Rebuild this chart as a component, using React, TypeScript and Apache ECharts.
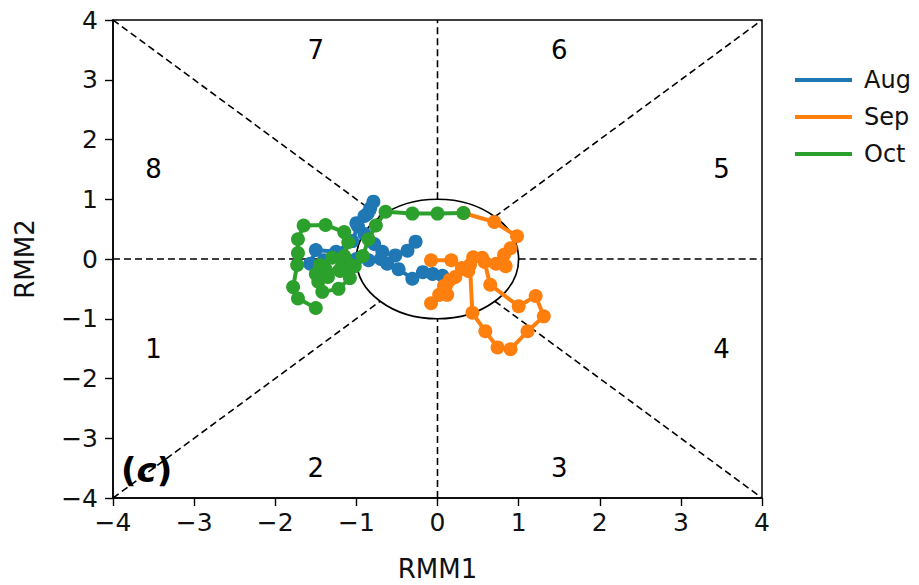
import React, { useEffect, useRef } from 'react';
import * as echarts from 'echarts';

const months = ['Aug', 'Sep', 'Oct'];
const monthColors = ['#1f77b4', '#ff7f0e', '#2ca02c'];

const augRMM: number[][] = [
  [-0.27, 0.29], [-0.37, 0.14], [-0.52, 0.06], [-0.68, 0.12], [-0.78, 0.25],
  [-0.9, 0.42], [-1.0, 0.6], [-0.9, 0.72], [-0.83, 0.85], [-0.79, 0.96],
  [-0.86, 0.76], [-0.98, 0.55], [-1.05, 0.3], [-1.25, 0.12], [-1.5, 0.15],
  [-1.57, -0.08], [-1.4, -0.02], [-1.2, 0.02], [-1.0, 0.0], [-0.85, -0.02],
  [-0.7, 0.0], [-0.62, -0.08], [-0.48, -0.17], [-0.31, -0.33], [-0.18, -0.22],
  [-0.06, -0.25], [0.06, -0.28],
];

const sepRMM: number[][] = [
  [-0.08, -0.02], [0.17, -0.02], [0.3, -0.15], [0.15, -0.35], [0.08, -0.45],
  [0.02, -0.6], [-0.08, -0.74], [0.12, -0.6], [0.22, -0.3], [0.38, -0.2],
  [0.44, 0.03], [0.58, -0.05], [0.65, -0.43], [1.0, -0.79], [1.21, -0.62],
  [1.31, -0.96], [1.11, -1.21], [0.9, -1.51], [0.74, -1.48], [0.59, -1.21],
  [0.43, -0.9], [0.4, -0.1], [0.55, 0.02], [0.72, -0.08], [0.84, -0.12],
  [0.82, 0.07], [0.9, 0.18], [0.98, 0.38], [0.7, 0.62], [0.32, 0.77],
];

const octRMM: number[][] = [
  [0.32, 0.77], [0.0, 0.76], [-0.31, 0.76], [-0.64, 0.79], [-0.76, 0.56],
  [-0.85, 0.33], [-0.92, 0.05], [-1.02, -0.12], [-1.2, -0.2], [-1.38, -0.17],
  [-1.47, -0.38], [-1.42, -0.55], [-1.22, -0.5], [-1.08, -0.32], [-1.12, -0.05],
  [-1.3, 0.02], [-1.45, -0.1], [-1.5, -0.25], [-1.35, -0.3], [-1.15, 0.05],
  [-1.1, 0.28], [-1.15, 0.45], [-1.38, 0.57], [-1.65, 0.56], [-1.72, 0.33],
  [-1.72, 0.1], [-1.73, -0.1], [-1.78, -0.47], [-1.72, -0.66], [-1.5, -0.82],
];

const monthData = [augRMM, sepRMM, octRMM];

const axisMin = -4;
const axisMax = 4;
const axisStep = 1;

const phaseNames = ['1', '2', '3', '4', '5', '6', '7', '8'];
const phaseXY: number[][] = [
  [-3.5, -1.5], [-1.5, -3.5], [1.5, -3.5], [3.5, -1.5],
  [3.5, 1.5], [1.5, 3.5], [-1.5, 3.5], [-3.5, 1.5],
];

const d = Math.SQRT1_2;
const guideSegments: number[][][] = [
  [[-4, 0], [-1, 0]], [[1, 0], [4, 0]],
  [[0, -4], [0, -1]], [[0, 1], [0, 4]],
  [[-4, -4], [-d, -d]], [[d, d], [4, 4]],
  [[-4, 4], [-d, d]], [[d, -d], [4, -4]],
];

const FONT = 'DejaVu Sans';
const minus = (v: number) => (v < 0 ? '\u2212' + Math.abs(v) : String(v));

export default function App() {
  const ref = useRef<HTMLDivElement>(null);
  useEffect(() => {
    if (!ref.current) return;
    const chart = echarts.init(ref.current, undefined, { renderer: 'svg' });

    const axisCommon = {
      type: 'value',
      min: axisMin,
      max: axisMax,
      interval: axisStep,
      nameLocation: 'middle',
      nameTextStyle: { fontFamily: FONT, fontSize: 26, color: '#111' },
      axisLine: { show: true, onZero: false, lineStyle: { color: '#000', width: 1.5 } },
      axisTick: { show: true, inside: false, length: 8, lineStyle: { color: '#000', width: 1.4 } },
      axisLabel: {
        fontFamily: FONT, fontSize: 25, color: '#111',
        formatter: (v: number) => minus(v),
      },
      splitLine: { show: false },
    };

    const series: any[] = [];

    guideSegments.forEach((seg) => {
      series.push({
        type: 'line',
        data: seg,
        showSymbol: false,
        silent: true,
        z: 1,
        lineStyle: { color: '#000', width: 1.6, type: [7, 4] },
      });
    });

    series.push({
      type: 'custom',
      coordinateSystem: 'cartesian2d',
      data: [[0, 0]],
      silent: true,
      z: 1,
      renderItem: (_p: any, api: any) => {
        const c = api.coord([0, 0]);
        const s = api.size([1, 1]);
        return {
          type: 'ellipse',
          shape: { cx: c[0], cy: c[1], rx: s[0], ry: s[1] },
          style: { fill: 'none', stroke: '#000', lineWidth: 1.7 },
        };
      },
    });

    series.push({
      type: 'scatter',
      data: phaseXY.map((p, i) => ({ value: p, name: phaseNames[i] })),
      symbolSize: 0,
      silent: true,
      itemStyle: { opacity: 1 },
      label: {
        show: true,
        position: 'inside',
        formatter: (p: any) => p.name,
        fontFamily: FONT,
        fontSize: 26,
        color: '#000',
        opacity: 1,
        textBorderWidth: 0,
      },
    });

    months.forEach((m, i) => {
      series.push({
        name: m,
        type: 'line',
        data: monthData[i],
        symbol: 'circle',
        symbolSize: 14,
        showSymbol: true,
        z: 3 + i,
        color: monthColors[i],
        lineStyle: { color: monthColors[i], width: 4 },
        itemStyle: { color: monthColors[i] },
      });
    });

    chart.setOption({
      animation: false,
      grid: {
        left: 113, right: 157, top: 20, bottom: 87,
        outerBoundsMode: 'none',
        containLabel: false,
        show: true, borderColor: '#000', borderWidth: 1.5, backgroundColor: '#fff',
      },
      xAxis: {
        ...axisCommon, name: 'RMM1', nameGap: 58,
        axisLabel: { ...axisCommon.axisLabel, margin: 12 },
      },
      yAxis: {
        ...axisCommon, name: 'RMM2', nameGap: 75, nameRotate: 90,
        axisLabel: { ...axisCommon.axisLabel, margin: 15 },
      },
      legend: {
        orient: 'vertical',
        left: 790,
        top: 63,
        data: months.map((m) => ({ name: m, icon: 'rect' })),
        itemWidth: 57,
        itemHeight: 4,
        itemGap: 13,
        textStyle: { fontFamily: FONT, fontSize: 24, color: '#111', padding: [0, 0, 0, 7] },
      },
      graphic: [
        {
          type: 'text',
          left: 121,
          top: 453,
          style: {
            text: '{a|(}{b|c}{a|)}',
            rich: {
              a: { fontFamily: FONT, fontSize: 34, fontWeight: 'bold', fill: '#000' },
              b: { fontFamily: FONT, fontSize: 34, fontWeight: 'bold', fontStyle: 'italic', fill: '#000' },
            },
          },
        },
      ],
      series,
    });

    return () => chart.dispose();
  }, []);

  return (
    <div
      ref={ref}
      style={{ position: 'fixed', left: 0, top: 0, width: 919, height: 585, background: '#fff' }}
    />
  );
}
